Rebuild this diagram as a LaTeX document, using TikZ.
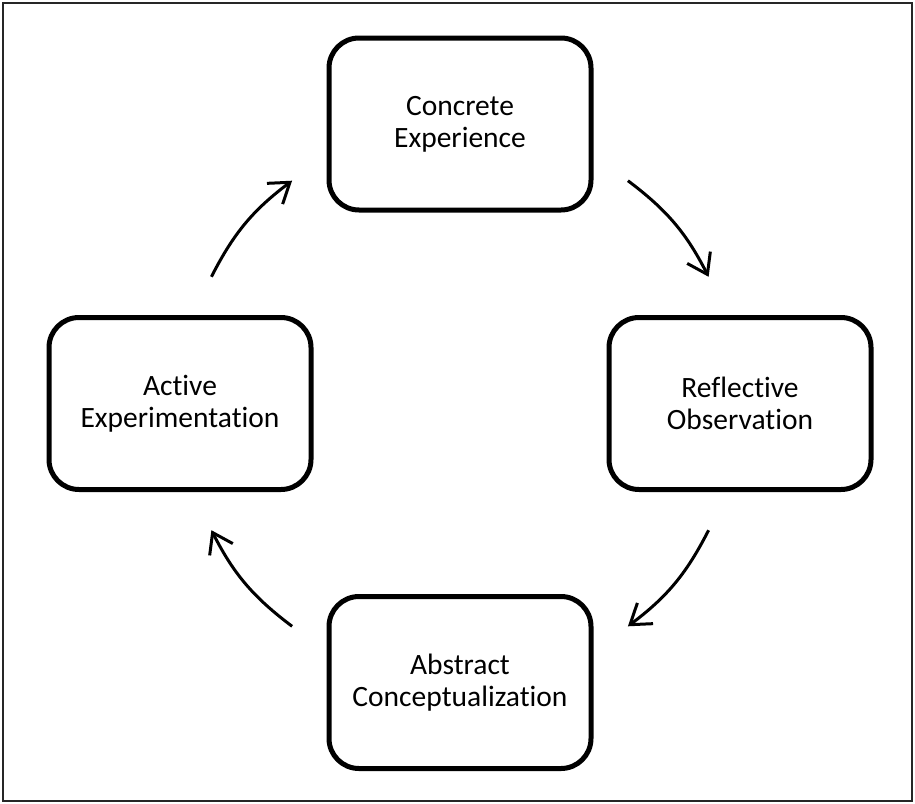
\documentclass[tikz,border=0pt]{standalone}
\usepackage{fontspec}
\setmainfont{Carlito}[Ligatures={NoCommon}]
\usetikzlibrary{arrows.meta}
\begin{document}
\begin{tikzpicture}[x=1pt,y=-1pt,
  stage/.style={draw=black, line width=5pt, rounded corners=30pt, minimum width=262pt, minimum height=172pt, inner sep=0pt, align=center, font=\fontsize{29.5}{32}\selectfont},
  cyc/.style={line width=3pt, -{Straight Barb[length=19pt,width=26pt,line width=3pt]}}]
\useasboundingbox (0,0) rectangle (915,803);
\draw[line width=2.5pt, black!85] (3,3) rectangle (912,801);
\node[stage] (ce) at (460,124) {Concrete\\Experience};
\node[stage] (ro) at (740,403.5) {Reflective\\Observation};
\node[stage] (ac) at (460,682.5) {Abstract\\Conceptualization};
\node[stage] (ae) at (180,403.5) {Active\\Experimentation};
\coordinate (a1s) at (627.9,180.7);
\coordinate (a1e) at (708.6,276.8);
\coordinate (a2s) at (708.6,530.2);
\coordinate (a2e) at (627.9,626.3);
\coordinate (a3s) at (292.1,626.3);
\coordinate (a3e) at (211.4,530.2);
\coordinate (a4s) at (211.4,276.8);
\coordinate (a4e) at (292.1,180.7);
\draw[cyc] (a1s) to[bend left=13] (a1e);
\draw[cyc] (a2s) to[bend left=13] (a2e);
\draw[cyc] (a3s) to[bend left=13] (a3e);
\draw[cyc] (a4s) to[bend left=13] (a4e);
\end{tikzpicture}
\end{document}
